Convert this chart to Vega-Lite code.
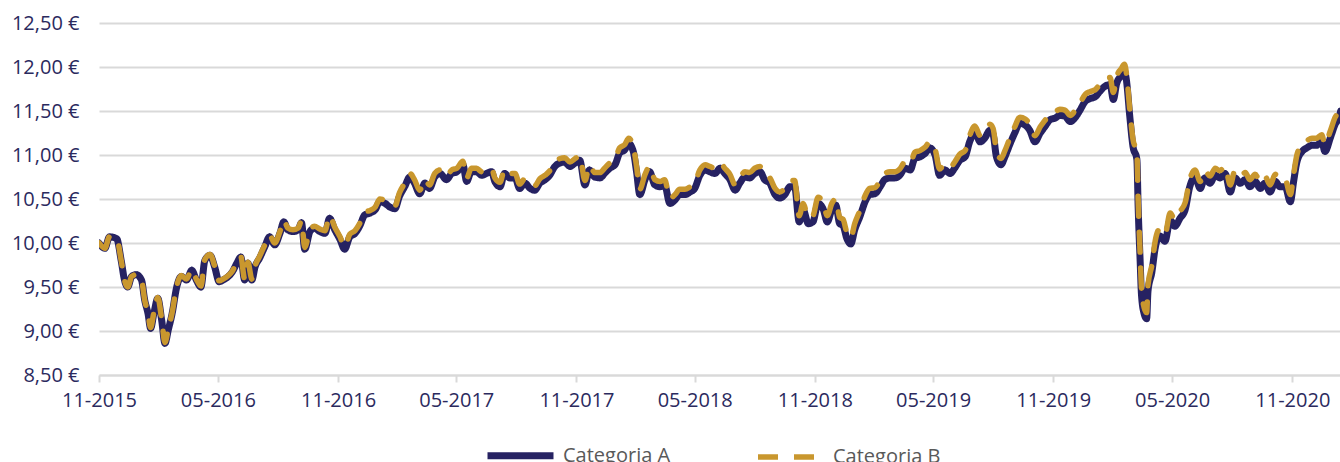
{
  "$schema": "https://vega.github.io/schema/vega-lite/v6.json",
  "width": 1241,
  "height": 352,
  "autosize": {"type": "none"},
  "padding": {"left": 99, "top": 23, "right": 0, "bottom": 87},
  "background": "white",
  "config": {"view": {"stroke": null}, "font": "Open Sans"},
  "data": {"values": [
    {"d":"2015-11-01","Categoria A":10.00,"Categoria B":10.00},
    {"d":"2015-11-10","Categoria A":9.94,"Categoria B":9.94},
    {"d":"2015-11-17","Categoria A":10.07,"Categoria B":10.07},
    {"d":"2015-11-28","Categoria A":10.05,"Categoria B":10.05},
    {"d":"2015-12-05","Categoria A":9.80,"Categoria B":9.80},
    {"d":"2015-12-10","Categoria A":9.58,"Categoria B":9.58},
    {"d":"2015-12-15","Categoria A":9.50,"Categoria B":9.50},
    {"d":"2015-12-21","Categoria A":9.62,"Categoria B":9.62},
    {"d":"2015-12-28","Categoria A":9.64,"Categoria B":9.64},
    {"d":"2016-01-05","Categoria A":9.58,"Categoria B":9.58},
    {"d":"2016-01-10","Categoria A":9.35,"Categoria B":9.35},
    {"d":"2016-01-15","Categoria A":9.20,"Categoria B":9.20},
    {"d":"2016-01-19","Categoria A":9.03,"Categoria B":9.04},
    {"d":"2016-01-24","Categoria A":9.20,"Categoria B":9.21},
    {"d":"2016-01-30","Categoria A":9.37,"Categoria B":9.38},
    {"d":"2016-02-05","Categoria A":9.12,"Categoria B":9.13},
    {"d":"2016-02-10","Categoria A":8.86,"Categoria B":8.87},
    {"d":"2016-02-15","Categoria A":9.01,"Categoria B":9.02},
    {"d":"2016-02-21","Categoria A":9.20,"Categoria B":9.21},
    {"d":"2016-02-28","Categoria A":9.50,"Categoria B":9.51},
    {"d":"2016-03-06","Categoria A":9.62,"Categoria B":9.63},
    {"d":"2016-03-14","Categoria A":9.58,"Categoria B":9.59},
    {"d":"2016-03-22","Categoria A":9.69,"Categoria B":9.70},
    {"d":"2016-03-29","Categoria A":9.58,"Categoria B":9.59},
    {"d":"2016-04-05","Categoria A":9.50,"Categoria B":9.51},
    {"d":"2016-04-11","Categoria A":9.80,"Categoria B":9.81},
    {"d":"2016-04-19","Categoria A":9.86,"Categoria B":9.87},
    {"d":"2016-04-26","Categoria A":9.73,"Categoria B":9.74},
    {"d":"2016-05-03","Categoria A":9.56,"Categoria B":9.57},
    {"d":"2016-05-09","Categoria A":9.58,"Categoria B":9.59},
    {"d":"2016-05-17","Categoria A":9.62,"Categoria B":9.63},
    {"d":"2016-05-23","Categoria A":9.67,"Categoria B":9.68},
    {"d":"2016-05-30","Categoria A":9.77,"Categoria B":9.78},
    {"d":"2016-06-05","Categoria A":9.84,"Categoria B":9.85},
    {"d":"2016-06-11","Categoria A":9.58,"Categoria B":9.59},
    {"d":"2016-06-16","Categoria A":9.77,"Categoria B":9.78},
    {"d":"2016-06-22","Categoria A":9.58,"Categoria B":9.59},
    {"d":"2016-06-27","Categoria A":9.73,"Categoria B":9.74},
    {"d":"2016-07-04","Categoria A":9.83,"Categoria B":9.85},
    {"d":"2016-07-12","Categoria A":9.96,"Categoria B":9.98},
    {"d":"2016-07-19","Categoria A":10.07,"Categoria B":10.09},
    {"d":"2016-07-27","Categoria A":9.98,"Categoria B":10.00},
    {"d":"2016-08-04","Categoria A":10.11,"Categoria B":10.13},
    {"d":"2016-08-10","Categoria A":10.24,"Categoria B":10.26},
    {"d":"2016-08-16","Categoria A":10.15,"Categoria B":10.17},
    {"d":"2016-08-24","Categoria A":10.13,"Categoria B":10.15},
    {"d":"2016-09-01","Categoria A":10.15,"Categoria B":10.17},
    {"d":"2016-09-06","Categoria A":10.23,"Categoria B":10.25},
    {"d":"2016-09-11","Categoria A":9.93,"Categoria B":9.95},
    {"d":"2016-09-19","Categoria A":10.13,"Categoria B":10.15},
    {"d":"2016-09-26","Categoria A":10.17,"Categoria B":10.19},
    {"d":"2016-10-04","Categoria A":10.13,"Categoria B":10.16},
    {"d":"2016-10-12","Categoria A":10.11,"Categoria B":10.14},
    {"d":"2016-10-19","Categoria A":10.28,"Categoria B":10.31},
    {"d":"2016-10-27","Categoria A":10.15,"Categoria B":10.18},
    {"d":"2016-11-04","Categoria A":10.04,"Categoria B":10.07},
    {"d":"2016-11-11","Categoria A":9.93,"Categoria B":9.96},
    {"d":"2016-11-19","Categoria A":10.07,"Categoria B":10.10},
    {"d":"2016-11-27","Categoria A":10.11,"Categoria B":10.14},
    {"d":"2016-12-04","Categoria A":10.19,"Categoria B":10.22},
    {"d":"2016-12-12","Categoria A":10.32,"Categoria B":10.35},
    {"d":"2016-12-20","Categoria A":10.34,"Categoria B":10.37},
    {"d":"2016-12-28","Categoria A":10.38,"Categoria B":10.41},
    {"d":"2017-01-04","Categoria A":10.47,"Categoria B":10.50},
    {"d":"2017-01-12","Categoria A":10.45,"Categoria B":10.48},
    {"d":"2017-01-19","Categoria A":10.41,"Categoria B":10.44},
    {"d":"2017-01-27","Categoria A":10.39,"Categoria B":10.42},
    {"d":"2017-02-03","Categoria A":10.53,"Categoria B":10.57},
    {"d":"2017-02-11","Categoria A":10.64,"Categoria B":10.68},
    {"d":"2017-02-19","Categoria A":10.75,"Categoria B":10.79},
    {"d":"2017-02-26","Categoria A":10.68,"Categoria B":10.72},
    {"d":"2017-03-06","Categoria A":10.56,"Categoria B":10.60},
    {"d":"2017-03-14","Categoria A":10.68,"Categoria B":10.72},
    {"d":"2017-03-21","Categoria A":10.62,"Categoria B":10.66},
    {"d":"2017-03-29","Categoria A":10.75,"Categoria B":10.79},
    {"d":"2017-04-06","Categoria A":10.79,"Categoria B":10.83},
    {"d":"2017-04-16","Categoria A":10.72,"Categoria B":10.76},
    {"d":"2017-04-24","Categoria A":10.79,"Categoria B":10.83},
    {"d":"2017-05-02","Categoria A":10.81,"Categoria B":10.85},
    {"d":"2017-05-11","Categoria A":10.89,"Categoria B":10.93},
    {"d":"2017-05-17","Categoria A":10.70,"Categoria B":10.74},
    {"d":"2017-05-24","Categoria A":10.81,"Categoria B":10.85},
    {"d":"2017-06-01","Categoria A":10.81,"Categoria B":10.85},
    {"d":"2017-06-09","Categoria A":10.77,"Categoria B":10.81},
    {"d":"2017-06-16","Categoria A":10.79,"Categoria B":10.83},
    {"d":"2017-06-24","Categoria A":10.81,"Categoria B":10.85},
    {"d":"2017-06-29","Categoria A":10.70,"Categoria B":10.74},
    {"d":"2017-07-07","Categoria A":10.64,"Categoria B":10.69},
    {"d":"2017-07-14","Categoria A":10.79,"Categoria B":10.84},
    {"d":"2017-07-22","Categoria A":10.74,"Categoria B":10.79},
    {"d":"2017-07-30","Categoria A":10.74,"Categoria B":10.79},
    {"d":"2017-08-06","Categoria A":10.62,"Categoria B":10.67},
    {"d":"2017-08-14","Categoria A":10.68,"Categoria B":10.73},
    {"d":"2017-08-22","Categoria A":10.62,"Categoria B":10.67},
    {"d":"2017-08-29","Categoria A":10.60,"Categoria B":10.65},
    {"d":"2017-09-06","Categoria A":10.68,"Categoria B":10.73},
    {"d":"2017-09-14","Categoria A":10.72,"Categoria B":10.77},
    {"d":"2017-09-21","Categoria A":10.77,"Categoria B":10.82},
    {"d":"2017-09-29","Categoria A":10.87,"Categoria B":10.92},
    {"d":"2017-10-07","Categoria A":10.91,"Categoria B":10.96},
    {"d":"2017-10-14","Categoria A":10.92,"Categoria B":10.97},
    {"d":"2017-10-22","Categoria A":10.87,"Categoria B":10.92},
    {"d":"2017-10-30","Categoria A":10.91,"Categoria B":10.96},
    {"d":"2017-11-06","Categoria A":10.94,"Categoria B":10.99},
    {"d":"2017-11-14","Categoria A":10.66,"Categoria B":10.71},
    {"d":"2017-11-21","Categoria A":10.83,"Categoria B":10.88},
    {"d":"2017-11-29","Categoria A":10.75,"Categoria B":10.80},
    {"d":"2017-12-07","Categoria A":10.74,"Categoria B":10.80},
    {"d":"2017-12-14","Categoria A":10.79,"Categoria B":10.85},
    {"d":"2017-12-22","Categoria A":10.85,"Categoria B":10.91},
    {"d":"2017-12-30","Categoria A":10.89,"Categoria B":10.95},
    {"d":"2018-01-06","Categoria A":11.02,"Categoria B":11.08},
    {"d":"2018-01-14","Categoria A":11.06,"Categoria B":11.12},
    {"d":"2018-01-20","Categoria A":11.13,"Categoria B":11.19},
    {"d":"2018-01-27","Categoria A":11.04,"Categoria B":11.10},
    {"d":"2018-02-01","Categoria A":10.81,"Categoria B":10.87},
    {"d":"2018-02-06","Categoria A":10.55,"Categoria B":10.61},
    {"d":"2018-02-14","Categoria A":10.72,"Categoria B":10.78},
    {"d":"2018-02-21","Categoria A":10.81,"Categoria B":10.87},
    {"d":"2018-03-01","Categoria A":10.66,"Categoria B":10.72},
    {"d":"2018-03-09","Categoria A":10.64,"Categoria B":10.70},
    {"d":"2018-03-16","Categoria A":10.66,"Categoria B":10.72},
    {"d":"2018-03-24","Categoria A":10.45,"Categoria B":10.51},
    {"d":"2018-04-01","Categoria A":10.49,"Categoria B":10.55},
    {"d":"2018-04-08","Categoria A":10.55,"Categoria B":10.61},
    {"d":"2018-04-16","Categoria A":10.55,"Categoria B":10.61},
    {"d":"2018-04-24","Categoria A":10.58,"Categoria B":10.64},
    {"d":"2018-05-01","Categoria A":10.62,"Categoria B":10.68},
    {"d":"2018-05-09","Categoria A":10.77,"Categoria B":10.83},
    {"d":"2018-05-17","Categoria A":10.83,"Categoria B":10.89},
    {"d":"2018-05-24","Categoria A":10.81,"Categoria B":10.87},
    {"d":"2018-06-01","Categoria A":10.79,"Categoria B":10.85},
    {"d":"2018-06-09","Categoria A":10.85,"Categoria B":10.91},
    {"d":"2018-06-16","Categoria A":10.79,"Categoria B":10.85},
    {"d":"2018-06-24","Categoria A":10.72,"Categoria B":10.78},
    {"d":"2018-07-02","Categoria A":10.60,"Categoria B":10.66},
    {"d":"2018-07-09","Categoria A":10.68,"Categoria B":10.74},
    {"d":"2018-07-17","Categoria A":10.75,"Categoria B":10.81},
    {"d":"2018-07-24","Categoria A":10.74,"Categoria B":10.80},
    {"d":"2018-08-01","Categoria A":10.79,"Categoria B":10.85},
    {"d":"2018-08-09","Categoria A":10.81,"Categoria B":10.87},
    {"d":"2018-08-16","Categoria A":10.72,"Categoria B":10.78},
    {"d":"2018-08-24","Categoria A":10.68,"Categoria B":10.74},
    {"d":"2018-09-01","Categoria A":10.55,"Categoria B":10.62},
    {"d":"2018-09-08","Categoria A":10.51,"Categoria B":10.58},
    {"d":"2018-09-16","Categoria A":10.55,"Categoria B":10.62},
    {"d":"2018-09-24","Categoria A":10.64,"Categoria B":10.71},
    {"d":"2018-10-01","Categoria A":10.64,"Categoria B":10.71},
    {"d":"2018-10-08","Categoria A":10.24,"Categoria B":10.31},
    {"d":"2018-10-14","Categoria A":10.38,"Categoria B":10.45},
    {"d":"2018-10-22","Categoria A":10.22,"Categoria B":10.29},
    {"d":"2018-10-29","Categoria A":10.24,"Categoria B":10.31},
    {"d":"2018-11-06","Categoria A":10.45,"Categoria B":10.52},
    {"d":"2018-11-14","Categoria A":10.38,"Categoria B":10.45},
    {"d":"2018-11-20","Categoria A":10.24,"Categoria B":10.31},
    {"d":"2018-11-27","Categoria A":10.38,"Categoria B":10.45},
    {"d":"2018-12-03","Categoria A":10.43,"Categoria B":10.50},
    {"d":"2018-12-09","Categoria A":10.22,"Categoria B":10.29},
    {"d":"2018-12-14","Categoria A":10.20,"Categoria B":10.27},
    {"d":"2018-12-20","Categoria A":10.05,"Categoria B":10.12},
    {"d":"2018-12-26","Categoria A":9.99,"Categoria B":10.06},
    {"d":"2019-01-01","Categoria A":10.15,"Categoria B":10.22},
    {"d":"2019-01-09","Categoria A":10.30,"Categoria B":10.37},
    {"d":"2019-01-17","Categoria A":10.47,"Categoria B":10.54},
    {"d":"2019-01-24","Categoria A":10.55,"Categoria B":10.62},
    {"d":"2019-02-01","Categoria A":10.56,"Categoria B":10.63},
    {"d":"2019-02-09","Categoria A":10.64,"Categoria B":10.71},
    {"d":"2019-02-16","Categoria A":10.72,"Categoria B":10.79},
    {"d":"2019-02-24","Categoria A":10.74,"Categoria B":10.81},
    {"d":"2019-03-04","Categoria A":10.74,"Categoria B":10.81},
    {"d":"2019-03-11","Categoria A":10.77,"Categoria B":10.84},
    {"d":"2019-03-19","Categoria A":10.85,"Categoria B":10.92},
    {"d":"2019-03-27","Categoria A":10.83,"Categoria B":10.90},
    {"d":"2019-04-03","Categoria A":10.96,"Categoria B":11.03},
    {"d":"2019-04-11","Categoria A":10.98,"Categoria B":11.05},
    {"d":"2019-04-19","Categoria A":11.02,"Categoria B":11.09},
    {"d":"2019-04-26","Categoria A":11.08,"Categoria B":11.15},
    {"d":"2019-05-04","Categoria A":11.00,"Categoria B":11.07},
    {"d":"2019-05-11","Categoria A":10.77,"Categoria B":10.84},
    {"d":"2019-05-19","Categoria A":10.83,"Categoria B":10.90},
    {"d":"2019-05-27","Categoria A":10.79,"Categoria B":10.86},
    {"d":"2019-06-03","Categoria A":10.85,"Categoria B":10.92},
    {"d":"2019-06-11","Categoria A":10.94,"Categoria B":11.01},
    {"d":"2019-06-19","Categoria A":10.98,"Categoria B":11.05},
    {"d":"2019-06-26","Categoria A":11.15,"Categoria B":11.22},
    {"d":"2019-07-04","Categoria A":11.26,"Categoria B":11.33},
    {"d":"2019-07-12","Categoria A":11.15,"Categoria B":11.22},
    {"d":"2019-07-19","Categoria A":11.19,"Categoria B":11.26},
    {"d":"2019-07-27","Categoria A":11.28,"Categoria B":11.35},
    {"d":"2019-08-01","Categoria A":11.23,"Categoria B":11.30},
    {"d":"2019-08-06","Categoria A":10.98,"Categoria B":11.05},
    {"d":"2019-08-13","Categoria A":10.89,"Categoria B":10.96},
    {"d":"2019-08-19","Categoria A":10.98,"Categoria B":11.05},
    {"d":"2019-08-27","Categoria A":11.13,"Categoria B":11.20},
    {"d":"2019-09-03","Categoria A":11.25,"Categoria B":11.32},
    {"d":"2019-09-11","Categoria A":11.36,"Categoria B":11.43},
    {"d":"2019-09-19","Categoria A":11.34,"Categoria B":11.41},
    {"d":"2019-09-26","Categoria A":11.28,"Categoria B":11.35},
    {"d":"2019-10-04","Categoria A":11.15,"Categoria B":11.22},
    {"d":"2019-10-12","Categoria A":11.25,"Categoria B":11.32},
    {"d":"2019-10-19","Categoria A":11.32,"Categoria B":11.39},
    {"d":"2019-10-27","Categoria A":11.40,"Categoria B":11.47},
    {"d":"2019-11-04","Categoria A":11.42,"Categoria B":11.49},
    {"d":"2019-11-11","Categoria A":11.45,"Categoria B":11.52},
    {"d":"2019-11-19","Categoria A":11.44,"Categoria B":11.51},
    {"d":"2019-11-27","Categoria A":11.38,"Categoria B":11.45},
    {"d":"2019-12-04","Categoria A":11.42,"Categoria B":11.50},
    {"d":"2019-12-12","Categoria A":11.51,"Categoria B":11.59},
    {"d":"2019-12-20","Categoria A":11.61,"Categoria B":11.69},
    {"d":"2019-12-27","Categoria A":11.64,"Categoria B":11.72},
    {"d":"2020-01-04","Categoria A":11.66,"Categoria B":11.74},
    {"d":"2020-01-11","Categoria A":11.72,"Categoria B":11.80},
    {"d":"2020-01-19","Categoria A":11.78,"Categoria B":11.86},
    {"d":"2020-01-27","Categoria A":11.80,"Categoria B":11.88},
    {"d":"2020-02-01","Categoria A":11.63,"Categoria B":11.71},
    {"d":"2020-02-06","Categoria A":11.81,"Categoria B":11.89},
    {"d":"2020-02-13","Categoria A":11.90,"Categoria B":11.98},
    {"d":"2020-02-18","Categoria A":11.95,"Categoria B":12.03},
    {"d":"2020-02-21","Categoria A":11.85,"Categoria B":11.93},
    {"d":"2020-02-26","Categoria A":11.45,"Categoria B":11.53},
    {"d":"2020-03-02","Categoria A":11.10,"Categoria B":11.18},
    {"d":"2020-03-08","Categoria A":10.95,"Categoria B":11.03},
    {"d":"2020-03-10","Categoria A":10.40,"Categoria B":10.48},
    {"d":"2020-03-13","Categoria A":9.80,"Categoria B":9.88},
    {"d":"2020-03-15","Categoria A":9.42,"Categoria B":9.50},
    {"d":"2020-03-19","Categoria A":9.20,"Categoria B":9.27},
    {"d":"2020-03-23","Categoria A":9.14,"Categoria B":9.21},
    {"d":"2020-03-25","Categoria A":9.45,"Categoria B":9.52},
    {"d":"2020-03-31","Categoria A":9.67,"Categoria B":9.75},
    {"d":"2020-04-05","Categoria A":9.94,"Categoria B":10.02},
    {"d":"2020-04-12","Categoria A":10.08,"Categoria B":10.16},
    {"d":"2020-04-20","Categoria A":10.02,"Categoria B":10.10},
    {"d":"2020-04-28","Categoria A":10.26,"Categoria B":10.34},
    {"d":"2020-05-05","Categoria A":10.19,"Categoria B":10.27},
    {"d":"2020-05-13","Categoria A":10.28,"Categoria B":10.36},
    {"d":"2020-05-21","Categoria A":10.38,"Categoria B":10.46},
    {"d":"2020-05-28","Categoria A":10.64,"Categoria B":10.72},
    {"d":"2020-06-05","Categoria A":10.75,"Categoria B":10.83},
    {"d":"2020-06-13","Categoria A":10.62,"Categoria B":10.70},
    {"d":"2020-06-20","Categoria A":10.74,"Categoria B":10.82},
    {"d":"2020-06-28","Categoria A":10.68,"Categoria B":10.76},
    {"d":"2020-07-06","Categoria A":10.77,"Categoria B":10.85},
    {"d":"2020-07-13","Categoria A":10.74,"Categoria B":10.82},
    {"d":"2020-07-21","Categoria A":10.79,"Categoria B":10.87},
    {"d":"2020-07-29","Categoria A":10.58,"Categoria B":10.66},
    {"d":"2020-08-05","Categoria A":10.74,"Categoria B":10.82},
    {"d":"2020-08-13","Categoria A":10.68,"Categoria B":10.76},
    {"d":"2020-08-21","Categoria A":10.72,"Categoria B":10.80},
    {"d":"2020-08-28","Categoria A":10.64,"Categoria B":10.72},
    {"d":"2020-09-05","Categoria A":10.70,"Categoria B":10.78},
    {"d":"2020-09-13","Categoria A":10.62,"Categoria B":10.70},
    {"d":"2020-09-20","Categoria A":10.68,"Categoria B":10.76},
    {"d":"2020-09-28","Categoria A":10.58,"Categoria B":10.66},
    {"d":"2020-10-06","Categoria A":10.70,"Categoria B":10.78},
    {"d":"2020-10-13","Categoria A":10.64,"Categoria B":10.72},
    {"d":"2020-10-21","Categoria A":10.64,"Categoria B":10.72},
    {"d":"2020-10-29","Categoria A":10.47,"Categoria B":10.55},
    {"d":"2020-11-03","Categoria A":10.70,"Categoria B":10.78},
    {"d":"2020-11-08","Categoria A":10.92,"Categoria B":11.00},
    {"d":"2020-11-16","Categoria A":11.04,"Categoria B":11.12},
    {"d":"2020-11-23","Categoria A":11.08,"Categoria B":11.16},
    {"d":"2020-12-01","Categoria A":11.11,"Categoria B":11.19},
    {"d":"2020-12-08","Categoria A":11.11,"Categoria B":11.19},
    {"d":"2020-12-16","Categoria A":11.15,"Categoria B":11.23},
    {"d":"2020-12-21","Categoria A":11.04,"Categoria B":11.12},
    {"d":"2020-12-29","Categoria A":11.19,"Categoria B":11.27},
    {"d":"2021-01-05","Categoria A":11.34,"Categoria B":11.42},
    {"d":"2021-01-12","Categoria A":11.44,"Categoria B":11.52},
    {"d":"2021-01-14","Categoria A":11.50,"Categoria B":11.58}
  ]},
  "transform": [{"fold": ["Categoria A", "Categoria B"], "as": ["serie", "valor"]}],
  "mark": {"type": "line", "clip": true, "interpolate": "monotone", "strokeCap": "round", "strokeJoin": "round"},
  "encoding": {
    "x": {
      "field": "d", "type": "temporal",
      "scale": {"type": "utc", "domain": [{"year": 2015, "month": 11, "date": 1, "utc": true}, {"year": 2021, "month": 1, "date": 13, "utc": true}]},
      "axis": {
        "title": null,
        "values": [
          {"year": 2015, "month": 11, "date": 1, "utc": true},
          {"year": 2016, "month": 5, "date": 1, "utc": true},
          {"year": 2016, "month": 11, "date": 1, "utc": true},
          {"year": 2017, "month": 5, "date": 1, "utc": true},
          {"year": 2017, "month": 11, "date": 1, "utc": true},
          {"year": 2018, "month": 5, "date": 1, "utc": true},
          {"year": 2018, "month": 11, "date": 1, "utc": true},
          {"year": 2019, "month": 5, "date": 1, "utc": true},
          {"year": 2019, "month": 11, "date": 1, "utc": true},
          {"year": 2020, "month": 5, "date": 1, "utc": true},
          {"year": 2020, "month": 11, "date": 1, "utc": true}
        ],
        "labelExpr": "utcFormat(datum.value, '%m-%Y')",
        "grid": false,
        "domainColor": "#d9d9d9", "domainWidth": 2,
        "tickColor": "#d9d9d9", "tickWidth": 2, "tickSize": 7,
        "labelPadding": 8, "labelFontSize": 20, "labelFont": "Open Sans",
        "labelColor": "#2b2a5e", "labelFlush": false, "labelOverlap": false
      }
    },
    "y": {
      "field": "valor", "type": "quantitative",
      "scale": {"domain": [8.5, 12.5], "nice": false, "zero": false},
      "axis": {
        "title": null,
        "values": [8.5, 9, 9.5, 10, 10.5, 11, 11.5, 12, 12.5],
        "labelExpr": "replace(format(datum.value, '.2f'), '.', ',') + ' €'",
        "grid": true, "gridColor": "#d9d9d9", "gridWidth": 2,
        "domain": false, "ticks": false, "tickSize": 0,
        "labelPadding": 20, "labelFontSize": 20, "labelFont": "Open Sans",
        "labelColor": "#2b2a5e"
      }
    },
    "color": {
      "field": "serie", "type": "nominal",
      "scale": {"domain": ["Categoria A", "Categoria B"], "range": ["#262262", "#C9972E"]},
      "legend": {
        "orient": "none", "legendX": 385, "legendY": 396, "direction": "horizontal",
        "title": null, "symbolType": "stroke", "symbolSize": 4356, "symbolStrokeWidth": 5,
        "labelFontSize": 20, "labelFont": "Open Sans", "labelColor": "#595959",
        "labelOffset": 6, "columnPadding": 76, "labelLimit": 300
      }
    },
    "strokeDash": {
      "field": "serie", "type": "nominal",
      "scale": {"domain": ["Categoria A", "Categoria B"], "range": [[1, 0], [20, 16]]}
    },
    "strokeWidth": {
      "field": "serie", "type": "ordinal",
      "scale": {"domain": ["Categoria A", "Categoria B"], "range": [7, 5.5]},
      "legend": null
    }
  }
}
